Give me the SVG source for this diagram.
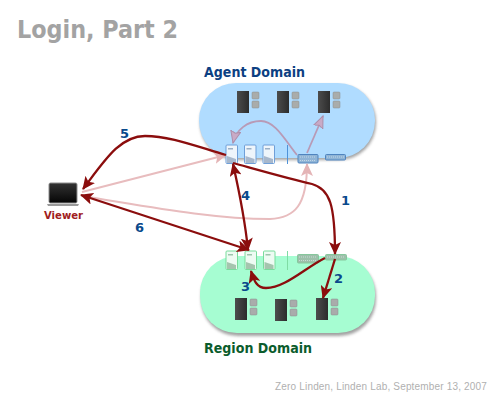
<svg xmlns="http://www.w3.org/2000/svg" width="500" height="400" viewBox="0 0 500 400">
<defs>
<linearGradient id="rk" x1="0" y1="0" x2="1" y2="0"><stop offset="0" stop-color="#4c4c4c"/><stop offset="1" stop-color="#2c2c2c"/></linearGradient>
<linearGradient id="sc" x1="0" y1="0" x2="0" y2="1"><stop offset="0" stop-color="#333"/><stop offset="1" stop-color="#050505"/></linearGradient>
<filter id="sh" x="-10%" y="-10%" width="120%" height="125%"><feGaussianBlur stdDeviation="1.5"/></filter>
<marker id="dk" markerUnits="userSpaceOnUse" markerWidth="14" markerHeight="12" refX="12" refY="6" orient="auto-start-reverse"><path d="M0 0L13 6L0 12L3 6Z" fill="#8b0d0d"/></marker>
<marker id="lt" markerUnits="userSpaceOnUse" markerWidth="14" markerHeight="12" refX="12" refY="6" orient="auto-start-reverse"><path d="M0 0L13 6L0 12L3 6Z" fill="#e4b4b6"/></marker>
<marker id="pu" markerUnits="userSpaceOnUse" markerWidth="14" markerHeight="12" refX="12" refY="6" orient="auto"><path d="M0 1L12 6L0 11L2 6Z" fill="#c9aac6" stroke="#ad8eaa"/></marker>
<g id="srv"><rect width="12" height="22" fill="url(#rk)"/><rect x="15" y="1" width="7" height="7" rx="1" fill="#a9acab" stroke="#8a8d8c" stroke-width=".5"/><rect x="15" y="10" width="7" height="7" rx="1" fill="#a9acab" stroke="#8a8d8c" stroke-width=".5"/></g>
<g id="docA"><rect width="11.500" height="18.500" rx="1" fill="#eef5fb" stroke="#6f9fd8" stroke-width="1"/><rect x="2" y="3" width="5" height="1.500" fill="#9bb0c5"/><path d="M1 16V11L10 14V18H1Z" fill="#a8b8cc"/></g>
<g id="docR"><rect width="11.500" height="18.500" rx="1" fill="#eefbf3" stroke="#79dc9c" stroke-width="1"/><rect x="2" y="3" width="5" height="1.500" fill="#9cc5ac"/><path d="M1 16V11L10 14V18H1Z" fill="#a5c4ae"/></g>
</defs>
<style>
.t{font-family:"DejaVu Sans",sans-serif;font-weight:700}
.n{font-size:13px;fill:#0a4a8c}
.dk{fill:none;stroke:#8b0d0d;stroke-width:2.300;marker-end:url(#dk)}
.lt{fill:none;stroke:#e8bcbe;stroke-width:2;marker-end:url(#lt)}
.pu{fill:none;stroke:#b89ab6;stroke-width:1.800;marker-end:url(#pu)}
.stA{fill:#8fb4d6;stroke:#4f84bf}
.stR{fill:#9dc0aa;stroke:#86c79c}
.gr{stroke:#e4eef2;stroke-width:.6;stroke-dasharray:1 1}
</style>
<text class="t" x="17" y="38" font-size="24" fill="#a3a3a3" textLength="161" lengthAdjust="spacingAndGlyphs">Login, Part 2</text>
<text id="credit" x="487" y="390" text-anchor="end" font-family="'Liberation Sans',sans-serif" font-size="10" letter-spacing=".17" fill="#b0b0b0">Zero Linden, Linden Lab, September 13, 2007</text>
<g id="agent-domain">
<rect x="200" y="85" width="176" height="75" rx="37" fill="#555" opacity=".55" filter="url(#sh)"/>
<rect x="199" y="83" width="176" height="75" rx="37" fill="#b0dcff"/>
<text class="t" x="204" y="77" font-size="13.500" fill="#0c3f82" textLength="101" lengthAdjust="spacingAndGlyphs">Agent Domain</text>
<use href="#srv" x="237" y="91"/><use href="#srv" x="277" y="91"/><use href="#srv" x="318" y="91"/>
<use href="#docA" x="226" y="145"/><use href="#docA" x="244.500" y="145"/><use href="#docA" x="263" y="145"/>
<path d="M287.500 145V164" stroke="#4f92d8" stroke-width="1"/>
<rect class="stA" x="298" y="154.500" width="20" height="8.500" rx="1"/><path class="gr" d="M300 157H316M300 160.500H316"/>
<rect class="stA" x="325.500" y="154.500" width="20" height="5.500" rx="1"/><path class="gr" d="M327 157H344"/>
</g>
<g id="region-domain">
<rect x="201" y="259" width="175" height="77" rx="37" fill="#555" opacity=".55" filter="url(#sh)"/>
<rect x="200" y="256" width="175" height="77" rx="37" fill="#a6fdd2"/>
<text class="t" x="204" y="353" font-size="13.500" fill="#0b5c2c" textLength="108" lengthAdjust="spacingAndGlyphs">Region Domain</text>
<use href="#srv" x="235" y="298"/><use href="#srv" x="275" y="299"/><use href="#srv" x="316" y="298"/>
<use href="#docR" x="226" y="251"/><use href="#docR" x="245" y="251"/><use href="#docR" x="263.500" y="251"/>
<path d="M287.500 251V270" stroke="#7fdca4" stroke-width="1"/>
<rect class="stR" x="297.500" y="254.500" width="21" height="8.500" rx="1"/><path class="gr" d="M299 257H317M299 260.500H317"/>
<rect class="stR" x="325.500" y="254.500" width="21" height="5.500" rx="1"/><path class="gr" d="M327 257H345"/>
</g>
<g id="viewer">
<rect x="49" y="183" width="28" height="20" rx="1.500" fill="url(#sc)" stroke="#8d8d8d" stroke-width="1"/>
<path d="M47 204H79L78 206H48Z" fill="#9a9a9a"/>
<text class="t" x="44" y="219" font-size="10" fill="#a02020" textLength="39" lengthAdjust="spacingAndGlyphs">Viewer</text>
</g>
<g id="connectors">
<path class="pu" d="M297 155C285 140 275 121 261 121C247 121 236 130 233 143"/>
<path class="pu" d="M307 153L323 116"/>
<path class="lt" d="M82 192L226 155"/>
<path class="lt" d="M82 196C140 205 210 219 270 219C295 218 307 205 307 164"/>
<path class="dk" d="M226 155C195 146 170 136 145 136C120 136 105 160 83 189"/>
<path class="dk" d="M233 163C262 171 290 179 312 184C330 189 335 205 335 254"/>
<path class="dk" d="M81 195L249 250" style="marker-start:url(#dk)"/>
<path class="dk" d="M233 164C240 195 245 220 248 250" style="marker-start:url(#dk)"/>
<path class="dk" d="M335 259L323 298"/>
<path class="dk" d="M325 258C305 268 285 288 266 288C257 288 254 281 251 271"/>
</g>
<g id="labels">
<text class="t n" x="120" y="138">5</text>
<text class="t n" x="341" y="205">1</text>
<text class="t n" x="241" y="200">4</text>
<text class="t n" x="135" y="232">6</text>
<text class="t n" x="334" y="283">2</text>
<text class="t n" x="241" y="291">3</text>
</g>
</svg>
